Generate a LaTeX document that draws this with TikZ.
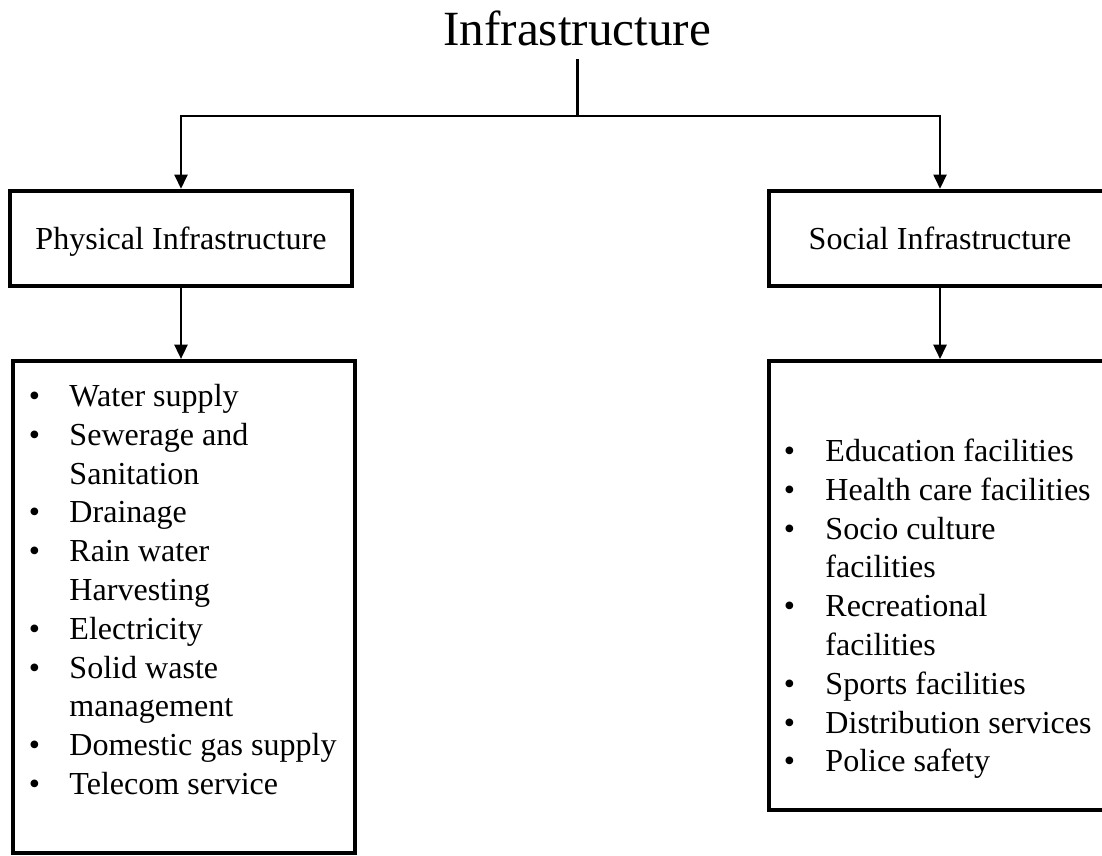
\documentclass[tikz,border=0pt]{standalone}
\usepackage{fontspec}
\setmainfont{Liberation Serif}
\usetikzlibrary{arrows.meta}

\tikzset{
    catbox/.style={draw, line width=2.8pt, minimum width=8.55cm, minimum height=2.375cm, inner sep=0pt, text height=0.725cm, text depth=0.15cm, font=\fontsize{22.8}{27.6}\selectfont},
    listbox/.style={draw, line width=2.8pt, minimum width=8.55cm, inner sep=0pt},
    listtext/.style={anchor=north west, inner sep=0pt, font=\fontsize{22.8}{27.6}\selectfont},
}

\begin{document}
\begin{tikzpicture}[line width=2.1pt, >={Triangle[length=0.36cm, width=0.32cm]}]
    \useasboundingbox (0, 0) rectangle (27.55, -21.375);
    \node[inner sep=0pt, anchor=base, font=\fontsize{35}{42}\selectfont] (title) at (14.43, -1.125) {Infrastructure};
    \coordinate (split) at (14.43, -2.9);
    \node[catbox] (phys) at (4.525, -5.96) {Physical Infrastructure};
    \node[catbox] (soc) at (23.5, -5.96) {Social Infrastructure};
    \node[listbox, minimum height=12.3cm] (physlist) at (4.6, -15.175) {};
    \node[listbox, minimum height=11.225cm] (soclist) at (23.5, -14.64) {};
    \draw[shorten <=0.3cm] (title.south) -- (split);
    \draw[->] (split) -| (phys.north);
    \draw[->] (split) -| (soc.north);
    \draw[->] (phys.south) -- (phys.south |- physlist.north);
    \draw[->] (soc.south) -- (soc.south |- soclist.north);
    \node[listtext] (physitems) at (0.6875, -9.445) {\begin{tabular}{@{}p{1.0125cm}@{}l@{}}
        \textbullet & Water supply\\
        \textbullet & Sewerage and\\
                    & Sanitation\\
        \textbullet & Drainage\\
        \textbullet & Rain water\\
                    & Harvesting\\
        \textbullet & Electricity\\
        \textbullet & Solid waste\\
                    & management\\
        \textbullet & Domestic gas supply\\
        \textbullet & Telecom service
    \end{tabular}};
    \node[listtext] (socitems) at (19.5625, -10.82) {\begin{tabular}{@{}p{1.0375cm}@{}l@{}}
        \textbullet & Education facilities\\
        \textbullet & Health care facilities\\
        \textbullet & Socio culture\\
                    & facilities\\
        \textbullet & Recreational\\
                    & facilities\\
        \textbullet & Sports facilities\\
        \textbullet & Distribution services\\
        \textbullet & Police safety
    \end{tabular}};
\end{tikzpicture}
\end{document}
